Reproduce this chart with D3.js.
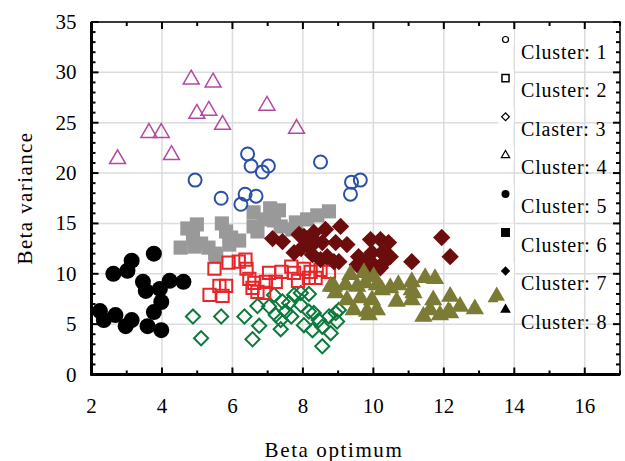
<!DOCTYPE html>
<html>
<head>
<meta charset="utf-8">
<script src="https://cdn.jsdelivr.net/npm/d3@7"></script>
<style>
  body { margin: 0; background: #fff; }
  svg text { font-family: "Liberation Serif", "Times New Roman", serif; }
</style>
</head>
<body>
<div id="chart"></div>
<script>
// data: [beta optimum, beta variance]
const cluster1 = [[6.43,21.9],[6.53,20.7],[6.85,20.1],[7.02,20.7],[8.50,21.1],[4.94,19.3],[5.68,17.5],
    [6.36,17.9],[6.67,17.7],[6.24,16.9],[9.38,19.1],[9.63,19.3],[9.35,17.9]];
const cluster2 = [[5.49,10.5],[5.89,11.1],[6.18,11.2],[6.37,11.4],[6.40,10.5],[5.63,8.8],[5.82,8.8],[5.35,7.9],
    [5.72,7.8],[6.48,9.5],[6.62,9.1],[6.57,8.6],[6.71,8.2],[6.90,8.1],[6.95,9.2],[7.04,10.1],[7.23,9.2],
    [7.39,10.2],[7.67,10.7],[7.75,10.1],[7.86,9.3],[8.03,10.5],[8.17,9.6],[8.22,10.2],[8.50,10.4],
    [8.74,10.2],[8.36,9.6]];
const cluster3 = [[4.88,5.75],[5.11,3.6],[5.68,5.76],[6.34,5.76],[6.76,4.83],[6.57,3.5],[6.71,6.8],[7.04,6.75],
    [7.18,7.9],[7.42,7.25],[7.23,5.9],[7.37,5.4],[7.37,4.5],[7.51,6.25],[7.67,5.76],[7.61,7.1],[7.75,7.9],
    [7.94,8.1],[8.17,8.0],[7.94,6.9],[8.03,4.9],[8.17,6.25],[8.27,4.4],[8.31,6.1],[8.45,5.4],[8.55,4.75],
    [8.79,4.1],[8.55,2.8],[8.74,5.76],[8.93,6.1],[8.97,5.26],[9.02,6.4]];
const cluster4 = [[2.74,21.4],[3.63,24.0],[3.98,24.0],[4.27,21.8],[4.83,29.3],[4.99,25.9],[5.33,26.2],
    [5.45,29.0],[5.72,24.8],[6.98,26.7],[7.82,24.4]];
const cluster5 = [[3.77,12.0],[3.14,11.3],[3.02,10.3],[2.62,10.0],[3.46,9.2],[3.54,8.3],[3.94,8.5],[4.22,9.3],
    [4.61,9.2],[3.98,7.2],[3.77,6.2],[2.24,6.3],[2.35,5.4],[2.68,5.9],[3.14,5.4],[2.97,4.8],[3.59,4.8],[3.98,4.4]];
const cluster6 = [[4.72,14.5],[4.99,14.9],[4.88,13.6],[4.53,12.6],[4.92,12.7],[5.11,13.0],[5.32,12.6],[5.51,12.0],
    [5.54,11.7],[5.70,15.0],[5.82,14.2],[5.96,13.6],[6.19,13.3],[5.91,12.9],[6.60,16.1],[7.07,16.5],[7.32,16.3],
    [6.60,14.7],[6.71,14.2],[6.90,15.4],[7.18,15.3],[7.37,14.7],[7.70,14.4],[7.80,15.1],[8.12,15.4],[8.41,15.8],
    [8.74,16.2]];
const cluster7 = [[7.14,13.5],[7.42,13.2],[7.89,13.9],[7.75,12.1],[7.95,12.5],[8.31,14.1],[8.64,14.4],[9.07,14.7],
    [8.17,12.7],[8.55,13.1],[8.93,13.1],[9.25,12.9],[8.27,11.9],[8.69,11.7],[9.02,11.2],[8.50,11.4],[8.88,11.2],
    [8.36,13.2],[8.03,13.7],[9.92,13.4],[10.20,13.4],[10.43,13.1],[9.58,11.7],[9.96,12.1],[10.24,12.1],
    [10.48,11.7],[9.68,11.1],[10.01,10.9],[10.29,11.1],[9.54,10.9],[9.87,10.6],[10.20,10.6],[9.82,11.4],
    [11.09,11.2],[11.94,13.6],[12.18,11.7]];
const cluster8 = [[9.35,9.9],[9.73,10.1],[10.01,9.7],[8.79,8.75],[8.93,8.1],[8.88,8.75],[9.21,8.9],[9.54,8.75],
    [9.77,9.1],[10.10,8.9],[10.24,8.4],[10.48,8.6],[10.71,8.9],[11.09,9.2],[11.14,8.1],[11.09,8.4],[11.47,9.6],
    [11.75,9.5],[9.25,7.4],[9.63,7.6],[9.96,7.4],[10.66,7.25],[11.09,7.4],[11.70,7.4],[12.18,7.75],[12.46,6.75],
    [12.88,6.5],[9.44,6.4],[9.82,6.25],[9.87,5.9],[10.10,6.4],[11.61,6.4],[12.13,6.25],[12.18,6.1],[11.42,5.76],
    [11.89,5.9],[13.5,7.7]];

const legendLabels = ["Cluster: 1","Cluster: 2","Claster: 3","Cluster: 4","Cluster: 5","Cluster: 6","Cluster: 7","Cluster: 8"];
const xTicks = [2,4,6,8,10,12,14,16];
const yTicks = [0,5,10,15,20,25,30,35];

const width = 625, height = 461;
const box = {left: 91.5, right: 620, top: 22, bottom: 374.5};

const svg = d3.select("#chart").append("svg")
    .attr("width", width)
    .attr("height", height);

const x = d3.scaleLinear().domain([2, 17]).range([box.left, box.right]);
const y = d3.scaleLinear().domain([0, 35]).range([box.bottom, box.top]);

// grid
svg.append("g").selectAll("line").data(xTicks.slice(1)).enter().append("line")
    .attr("x1", d => x(d)).attr("x2", d => x(d))
    .attr("y1", box.top).attr("y2", box.bottom)
    .attr("stroke", "#dcdcdc").attr("stroke-width", 1.5);
svg.append("g").selectAll("line").data(yTicks.slice(1)).enter().append("line")
    .attr("x1", box.left).attr("x2", box.right)
    .attr("y1", d => y(d)).attr("y2", d => y(d))
    .attr("stroke", "#dcdcdc").attr("stroke-width", 1.5);

// markers
const sq = d3.symbol().type(d3.symbolSquare);
const tri = d3.symbol().type(d3.symbolTriangle);

const styles = [
    {data: cluster1, kind: "circle", r: 6.5, fill: "none", stroke: "#2b50a6", sw: 2},
    {data: cluster2, kind: "square", size: 150, fill: "none", stroke: "#e8262a", sw: 2},
    {data: cluster3, kind: "diamond", size: 100, fill: "none", stroke: "#0b7a3b", sw: 2},
    {data: cluster4, kind: "triangle", size: 110, fill: "none", stroke: "#b24a9f", sw: 1.5},
    {data: cluster5, kind: "circle", r: 8, fill: "#000", stroke: "none", sw: 0},
    {data: cluster6, kind: "square", size: 200, fill: "#999999", stroke: "none", sw: 0},
    {data: cluster7, kind: "diamond", size: 150, fill: "#6b0d0d", stroke: "none", sw: 0},
    {data: cluster8, kind: "triangle", size: 145, fill: "#7c7b35", stroke: "none", sw: 0}
];

function drawMarks(g, s, pts) {
    let sel;
    if (s.kind === "circle") {
        sel = g.selectAll("circle").data(pts).enter().append("circle")
            .attr("cx", d => d[0]).attr("cy", d => d[1]).attr("r", s.r);
    } else {
        let gen = s.kind === "triangle" ? tri.size(s.size) : sq.size(s.size);
        sel = g.selectAll("path").data(pts).enter().append("path")
            .attr("d", gen)
            .attr("transform", d => "translate(" + d[0] + "," + d[1] + ")" + (s.kind === "diamond" ? " rotate(45)" : ""));
    }
    sel.attr("fill", s.fill).attr("stroke", s.stroke).attr("stroke-width", s.sw);
}

// order: gray, green, red, dark red, olive, then the open ones
[5, 2, 1, 6, 7, 4, 0, 3].forEach(function (i) {
    let s = styles[i];
    drawMarks(svg.append("g"), s, s.data.map(d => [x(d[0]), y(d[1])]));
});

// frame
svg.append("rect").attr("x", box.left).attr("y", box.top)
    .attr("width", box.right - box.left).attr("height", box.bottom - box.top)
    .attr("fill", "none").attr("stroke", "#000").attr("stroke-width", 1.5);
svg.append("line").attr("x1", box.left).attr("x2", box.left).attr("y1", box.top).attr("y2", box.bottom + 1)
    .attr("stroke", "#000").attr("stroke-width", 3);
svg.append("line").attr("x1", box.left - 1).attr("x2", box.right).attr("y1", box.bottom).attr("y2", box.bottom)
    .attr("stroke", "#000").attr("stroke-width", 3);

// ticks (inward)
let xMinor = d3.range(2, 18, 1);
let yMinor = d3.range(0, 36, 1);
function tickLen(v, step) { return v % step === 0 ? 7 : 4; }
let tg = svg.append("g").attr("stroke", "#000").attr("stroke-width", 2);
xMinor.forEach(function (v) {
    let l = tickLen(v, 2);
    tg.append("line").attr("x1", x(v)).attr("x2", x(v)).attr("y1", box.bottom).attr("y2", box.bottom - l);
    tg.append("line").attr("x1", x(v)).attr("x2", x(v)).attr("y1", box.top).attr("y2", box.top + l);
});
yMinor.forEach(function (v) {
    let l = tickLen(v, 5);
    tg.append("line").attr("x1", box.left).attr("x2", box.left + l).attr("y1", y(v)).attr("y2", y(v));
    tg.append("line").attr("x1", box.right).attr("x2", box.right - l).attr("y1", y(v)).attr("y2", y(v));
});

// tick labels
svg.append("g").selectAll("text").data(xTicks).enter().append("text")
    .attr("x", d => x(d)).attr("y", box.bottom + 38)
    .attr("text-anchor", "middle").attr("font-size", 21)
    .text(d => d);
svg.append("g").selectAll("text").data(yTicks).enter().append("text")
    .attr("x", box.left - 15).attr("y", d => y(d) + 7)
    .attr("text-anchor", "end").attr("font-size", 21)
    .text(d => d);

// axis titles
svg.append("text").attr("x", 334).attr("y", 457)
    .attr("text-anchor", "middle").attr("font-size", 21).attr("letter-spacing", 1.6)
    .text("Beta optimum");
svg.append("text").attr("transform", "translate(32,198) rotate(-90)")
    .attr("text-anchor", "middle").attr("font-size", 21).attr("letter-spacing", 1.4)
    .text("Beta variance");

// legend
const legSym = [
    {kind: "circle", r: 3, fill: "#fff", stroke: "#000", sw: 1.2},
    {kind: "square", size: 50, fill: "#fff", stroke: "#000", sw: 1.5},
    {kind: "diamond", size: 30, fill: "#fff", stroke: "#000", sw: 1.2},
    {kind: "triangle", size: 30, fill: "#fff", stroke: "#000", sw: 1.2},
    {kind: "circle", r: 4, fill: "#000", stroke: "none", sw: 0},
    {kind: "square", size: 80, fill: "#000", stroke: "none", sw: 0},
    {kind: "diamond", size: 45, fill: "#000", stroke: "none", sw: 0},
    {kind: "triangle", size: 50, fill: "#000", stroke: "none", sw: 0}
];
let lg = svg.append("g");
legendLabels.forEach(function (t, i) {
    let by = 58.5 + i * 38.6;
    lg.append("rect").attr("x", 498).attr("y", by - 28).attr("width", 16).attr("height", 16).attr("fill", "#fff");
    drawMarks(lg.append("g"), legSym[i], [[505.5, by - 19]]);
    lg.append("text").attr("x", 521).attr("y", by)
        .attr("font-size", 20).attr("letter-spacing", 0.8)
        .text(t);
});
</script>
</body>
</html>
